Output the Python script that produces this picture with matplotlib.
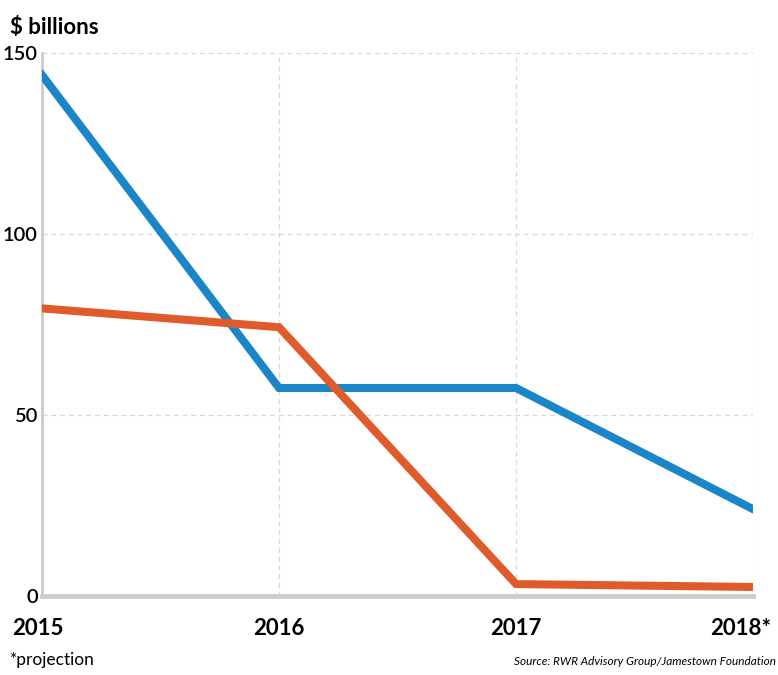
import matplotlib.pyplot as plt

years = [2015, 2016, 2017, 2018]
year_labels = ['2015', '2016', '2017', '2018*']
blue_vals = [144, 57.5, 57.5, 24]
orange_vals = [79.5, 74.3, 3.3, 2.5]
y_ticks = [0, 50, 100, 150]

plt.rcParams['font.family'] = ['Lato', 'DejaVu Sans']

fig = plt.figure(figsize=(7.78, 6.75), dpi=100)
ax = fig.add_axes([0.054, 0.117, 0.914, 0.804])

ax.plot(years, blue_vals, color='#1a86c8', linewidth=5.8, solid_joinstyle='miter', zorder=3)
ax.plot(years, orange_vals, color='#e05b2c', linewidth=5.8, solid_joinstyle='miter', zorder=3)

ax.set_xlim(2015, 2018)
ax.set_ylim(0, 150)

# dashed grid
for y in y_ticks[1:]:
    ax.axhline(y, color='#d8d8d8', linestyle=(0, (4, 3)), linewidth=0.9, zorder=1)
for x in years[1:]:
    ax.axvline(x, color='#d8d8d8', linestyle=(0, (4, 3)), linewidth=0.9, zorder=1)

for s in ['top', 'right']:
    ax.spines[s].set_visible(False)
ax.spines['left'].set_color('#cccccc')
ax.spines['left'].set_linewidth(2)
ax.spines['bottom'].set_color('#cccccc')
ax.spines['bottom'].set_linewidth(3.5)

ax.set_yticks(y_ticks)
ax.set_yticklabels([str(v) for v in y_ticks], fontsize=14.5, fontweight='semibold')
ax.tick_params(axis='y', length=0, pad=3)
ax.set_xticks([])

for i, (yr, lab) in enumerate(zip(years, year_labels)):
    ha = 'center'
    xoff = 0
    if i == 0:
        xoff = -0.018
    if i == len(years) - 1:
        ha = 'right'
        xoff = 0.075
    ax.text(yr + xoff, -6.0, lab, ha=ha, va='top', fontsize=16, fontweight='bold',
            transform=ax.transData, clip_on=False)

fig.text(0.013, 0.975, '$ billions', fontsize=16, fontweight='bold', ha='left', va='top')
fig.text(0.013, 0.022, '*projection', fontsize=12.5, ha='left', va='center')
fig.text(0.997, 0.020, 'Source: RWR Advisory Group/Jamestown Foundation', fontsize=8.5,
         style='italic', ha='right', va='center')

fig.savefig('out.png', dpi=100)
